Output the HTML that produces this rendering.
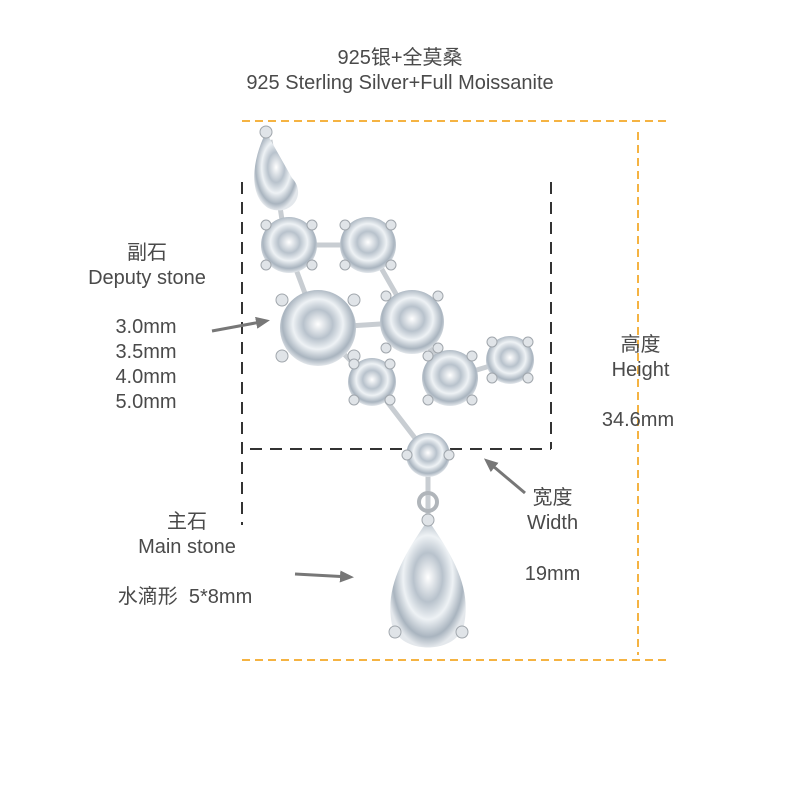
<!DOCTYPE html>
<html><head><meta charset="utf-8"><style>
html,body{margin:0;padding:0;background:#fff}
.t{position:absolute;font-family:"Liberation Sans","Noto Sans CJK SC",sans-serif;color:#4a4a4a;font-size:20px;text-align:center;line-height:25px;white-space:nowrap}
</style></head><body>
<div style="position:relative;width:800px;height:800px;overflow:hidden">
<svg width="800" height="800" style="position:absolute;left:0;top:0">
<defs>
<radialGradient id="g" cx="50%" cy="45%" r="55%">
<stop offset="0" stop-color="#ffffff"/><stop offset="0.35" stop-color="#b8c2cc"/><stop offset="0.6" stop-color="#eef2f5"/><stop offset="0.85" stop-color="#a9b4bf"/><stop offset="1" stop-color="#e4e8ec"/></radialGradient>
<marker id="ah" markerWidth="14" markerHeight="12" refX="10" refY="6" orient="auto" markerUnits="userSpaceOnUse"><path d="M0,0 L14,6 L0,12 z" fill="#777"/></marker>
</defs>
<g stroke="#f5b342" stroke-width="2" stroke-dasharray="8,5" fill="none">
<line x1="242" y1="121" x2="670" y2="121"/>
<line x1="242" y1="660" x2="670" y2="660"/>
<line x1="638" y1="132" x2="638" y2="655"/>
</g>
<g stroke="#333" stroke-width="2" stroke-dasharray="12,8" fill="none">
<line x1="242" y1="182" x2="242" y2="525"/>
<line x1="551" y1="182" x2="551" y2="449"/>
<line x1="250" y1="449" x2="551" y2="449"/>
</g>
<g stroke="#c8cdd2" stroke-width="5" fill="none">
<path d="M270,140 L285,240 L318,328 L372,382 L428,455"/>
<path d="M289,245 L368,245 L412,322 L450,378 L510,360"/>
<path d="M318,328 L412,322"/><path d="M428,455 L428,520"/>
</g>
<path d="M266,132 C252,160 248,195 268,208 C290,218 308,195 292,178 Z" fill="url(#g)"/>
<g fill="url(#g)">
<circle cx="289" cy="245" r="28"/><circle cx="368" cy="245" r="28"/>
<circle cx="318" cy="328" r="38"/><circle cx="412" cy="322" r="32"/>
<circle cx="372" cy="382" r="24"/><circle cx="450" cy="378" r="28"/>
<circle cx="510" cy="360" r="24"/><circle cx="428" cy="455" r="22"/>
</g>
<circle cx="428" cy="502" r="9" fill="none" stroke="#b0b5ba" stroke-width="4"/>
<path d="M428,520 C400,560 385,590 392,625 C400,655 456,655 464,625 C471,590 456,560 428,520 Z" fill="url(#g)"/>
<g fill="#e0e4e8" stroke="#a0a6ac" stroke-width="1">
<circle cx="266" cy="132" r="6"/><circle cx="395" cy="632" r="6"/><circle cx="462" cy="632" r="6"/>
<circle cx="428" cy="520" r="6"/><circle cx="407" cy="455" r="5"/><circle cx="449" cy="455" r="5"/>
<circle cx="282" cy="300" r="6"/><circle cx="354" cy="300" r="6"/><circle cx="282" cy="356" r="6"/><circle cx="354" cy="356" r="6"/>
<circle cx="266" cy="225" r="5"/><circle cx="312" cy="225" r="5"/><circle cx="266" cy="265" r="5"/><circle cx="312" cy="265" r="5"/>
<circle cx="345" cy="225" r="5"/><circle cx="391" cy="225" r="5"/><circle cx="345" cy="265" r="5"/><circle cx="391" cy="265" r="5"/>
<circle cx="386" cy="296" r="5"/><circle cx="438" cy="296" r="5"/><circle cx="386" cy="348" r="5"/><circle cx="438" cy="348" r="5"/>
<circle cx="428" cy="356" r="5"/><circle cx="472" cy="356" r="5"/><circle cx="428" cy="400" r="5"/><circle cx="472" cy="400" r="5"/>
<circle cx="492" cy="342" r="5"/><circle cx="528" cy="342" r="5"/><circle cx="492" cy="378" r="5"/><circle cx="528" cy="378" r="5"/>
<circle cx="354" cy="364" r="5"/><circle cx="390" cy="364" r="5"/><circle cx="354" cy="400" r="5"/><circle cx="390" cy="400" r="5"/>
</g>
<g stroke="#777" stroke-width="3" fill="none" marker-end="url(#ah)">
<line x1="212" y1="331" x2="266" y2="321"/>
<line x1="295" y1="574" x2="350" y2="577"/>
<line x1="525" y1="493" x2="487" y2="461"/>
</g>
</svg>
<div class="t" style="left:290px;top:46px;width:220px">925银+全莫桑</div>
<div class="t" style="left:180px;top:71px;width:440px">925 Sterling Silver+Full Moissanite</div>
<div class="t" style="left:57px;top:241px;width:180px">副石<br>Deputy stone</div>
<div class="t" style="left:90px;top:315px;width:112px">3.0mm<br>3.5mm<br>4.0mm<br>5.0mm</div>
<div class="t" style="left:97px;top:510px;width:180px">主石<br>Main stone</div>
<div class="t" style="left:105px;top:585px;width:160px">水滴形&nbsp; 5*8mm</div>
<div class="t" style="left:500px;top:486px;width:105px">宽度<br>Width</div>
<div class="t" style="left:500px;top:562px;width:105px">19mm</div>
<div class="t" style="left:588px;top:333px;width:105px">高度<br>Height</div>
<div class="t" style="left:580px;top:408px;width:116px">34.6mm</div>
</div>
</body></html>
